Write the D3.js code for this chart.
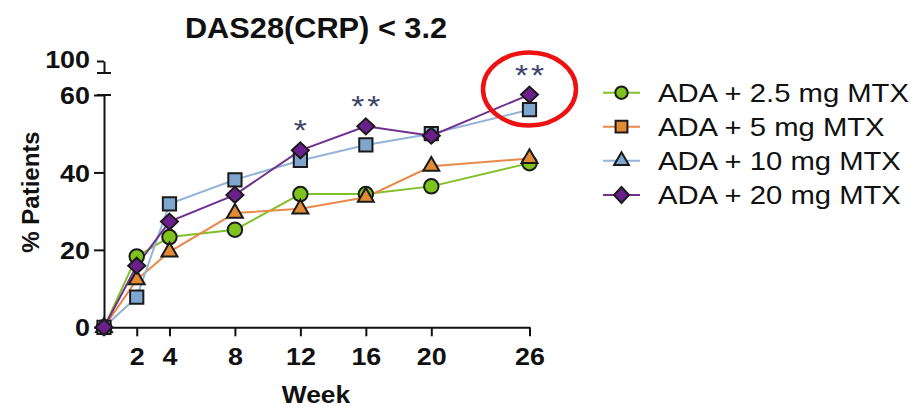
<!DOCTYPE html>
<html>
<head>
<meta charset="utf-8">
<script src="https://cdn.jsdelivr.net/npm/d3@7"></script>
<style>
  html, body { margin: 0; padding: 0; background: #fff; }
  svg { display: block; font-family: "Liberation Sans", Arial, sans-serif; }
</style>
</head>
<body>
<svg id="chart" width="916" height="407"></svg>
<script>
// Visit weeks and percentage of patients reaching DAS28(CRP) < 3.2
const weeks = [0, 2, 4, 8, 12, 16, 20, 26];
const ada25 = [0, 18.3, 23.3, 25.2, 34.4, 34.4, 36.4, 42.4];
const ada5  = [0, 12.3, 19.5, 29.5, 30.6, 33.6, 41.6, 43.6];
const ada10 = [0, 7.8, 31.9, 38.1, 43.1, 47.1, 50.0, 56.2];
const ada20 = [0, 15.9, 27.3, 34.2, 45.7, 51.9, 49.5, 60.1];

const seriesNames = ["ADA + 2.5 mg MTX", "ADA + 5 mg MTX", "ADA + 10 mg MTX", "ADA + 20 mg MTX"];
const xTicks = [2, 4, 8, 12, 16, 20, 26];
const yTicks = [0, 20, 40, 60];
const yTopTicks = [100];

// Significance markers over selected weeks
const sigWeeks = [12, 16, 26];
const sigLabels = ["*", "**", "**"];

// Wide diamond marker (half-width w, half-height h)
const diamond = (w, h) => ({
  draw(ctx) {
    ctx.moveTo(0, -h); ctx.lineTo(w, 0); ctx.lineTo(0, h); ctx.lineTo(-w, 0); ctx.closePath();
  }
});

const series = [
  { name: seriesNames[0], values: ada25, fill: "#7ec31b", line: "#80c02a", shape: d3.symbolCircle,   legendShape: d3.symbolCircle,   size: 165, legendSize: 120 },
  { name: seriesNames[1], values: ada5,  fill: "#e38a35", line: "#e8894a", shape: d3.symbolTriangle, legendShape: d3.symbolSquare,   size: 110, legendSize: 140 },
  { name: seriesNames[2], values: ada10, fill: "#7fa6cf", line: "#93b4d8", shape: d3.symbolSquare,   legendShape: d3.symbolTriangle, size: 175, legendSize: 95 },
  { name: seriesNames[3], values: ada20, fill: "#6b1f8c", line: "#70308f", shape: diamond(8.5, 8),   legendShape: diamond(7.5, 8),   size: 1,   legendSize: 1 }
];

const svg = d3.select("#chart");
const sx = 1.12; // horizontal text stretch

const x = d3.scaleLinear().domain([0, 26]).range([104, 529.5]);
const y = d3.scaleLinear().domain([0, 60]).range([327.3, 95]);
const yTop = d3.scaleLinear().domain([95, 100]).range([73, 61]);

// Title
svg.append("text")
  .attr("transform", `translate(316,37.5) scale(1.06,1)`)
  .attr("text-anchor", "middle")
  .attr("font-size", 29).attr("font-weight", "bold").attr("fill", "#111")
  .text("DAS28(CRP) < 3.2");

// Axes
const axisStyle = g => {
  g.selectAll(".domain").attr("stroke", "#111").attr("stroke-width", 2);
  g.selectAll(".tick line").attr("stroke", "#111").attr("stroke-width", 2);
  g.selectAll(".tick text").attr("fill", "#111").attr("font-size", 24).attr("font-weight", "bold")
    .attr("font-family", "Liberation Sans, Arial, sans-serif");
};

const gx = svg.append("g").attr("transform", `translate(0,${y(0)})`)
  .call(d3.axisBottom(x).tickValues(xTicks).tickSize(9).tickSizeOuter(0).tickFormat(d3.format("d")))
  .call(axisStyle);
gx.selectAll(".tick text").attr("y", 0).attr("dy", 0)
  .attr("transform", `translate(0,38) scale(${sx},1)`);

const gy = svg.append("g").attr("transform", `translate(${x(0)},0)`)
  .call(d3.axisLeft(y).tickValues(yTicks).tickSize(10).tickSizeOuter(0).tickFormat(d3.format("d")))
  .call(axisStyle);
gy.selectAll(".tick text").attr("x", 0).attr("dy", "0.36em")
  .attr("transform", `translate(-14,0) scale(${sx},1)`);

const gyTop = svg.append("g").attr("transform", `translate(${x(0)},0)`)
  .call(d3.axisLeft(yTop).tickValues(yTopTicks).tickSize(7).tickSizeOuter(0).tickFormat(d3.format("d")))
  .call(axisStyle);
gyTop.selectAll(".tick text").attr("x", 0).attr("dy", "0.25em")
  .attr("transform", `translate(-14,0) scale(${sx},1)`);

// Axis break marks
[yTop(95), y(60)].forEach(by => {
  svg.append("line")
    .attr("x1", x(0) - 7).attr("x2", x(0) + 7)
    .attr("y1", by).attr("y2", by)
    .attr("stroke", "#111").attr("stroke-width", 2);
});

// Axis titles
svg.append("text")
  .attr("transform", `translate(316,403) scale(1.1,1)`)
  .attr("text-anchor", "middle")
  .attr("font-size", 24).attr("font-weight", "bold").attr("fill", "#111")
  .text("Week");

svg.append("text")
  .attr("transform", `translate(39,192) rotate(-90)`)
  .attr("text-anchor", "middle")
  .attr("font-size", 24).attr("font-weight", "bold").attr("fill", "#111")
  .text("% Patients");

// Lines
const line = d3.line().x((d, i) => x(weeks[i])).y(d => y(d));
series.forEach(s => {
  svg.append("path").datum(s.values)
    .attr("d", line).attr("fill", "none")
    .attr("stroke", s.line).attr("stroke-width", 2);
});

// Markers
series.forEach(s => {
  svg.append("g").selectAll("path").data(s.values).join("path")
    .attr("transform", (d, i) => `translate(${x(weeks[i])},${y(d)})`)
    .attr("d", d3.symbol().type(s.shape).size(s.size))
    .attr("fill", s.fill).attr("stroke", "#1a1a1a").attr("stroke-width", 2)
    .attr("stroke-linejoin", "miter");
});

// Significance asterisks, one glyph per star
sigWeeks.forEach((w, k) => {
  const i = weeks.indexOf(w);
  const top = d3.max(series, s => s.values[i]);
  const stars = sigLabels[k].split("");
  stars.forEach((ch, j) => {
    const dx = (j - (stars.length - 1) / 2) * 16;
    svg.append("text")
      .attr("transform", `translate(${x(w) + dx},${y(top) - 10}) scale(${sx},1)`)
      .attr("text-anchor", "middle")
      .attr("font-size", 30).attr("fill", "#3d4668")
      .text(ch);
  });
});

// Highlight ring at week 26
svg.append("ellipse")
  .attr("cx", x(26)).attr("cy", 89).attr("rx", 46.5).attr("ry", 36.5)
  .attr("fill", "none").attr("stroke", "#ee1111").attr("stroke-width", 4.5);

// Legend
const legend = svg.append("g");
const legendY = [92.7, 126.7, 160.7, 195];
series.forEach((s, k) => {
  const g = legend.append("g").attr("transform", `translate(0,${legendY[k]})`);
  g.append("line").attr("x1", 603).attr("x2", 640).attr("y1", 0).attr("y2", 0)
    .attr("stroke", s.line).attr("stroke-width", 2);
  g.append("path").attr("transform", "translate(621.5,0)")
    .attr("d", d3.symbol().type(s.legendShape).size(s.legendSize))
    .attr("fill", s.fill).attr("stroke", "#1a1a1a").attr("stroke-width", 2);
  g.append("text")
    .attr("transform", `translate(658,0) scale(1.17,1)`)
    .attr("dy", "0.36em")
    .attr("font-size", 25).attr("fill", "#111")
    .text(s.name);
});
</script>
</body>
</html>
